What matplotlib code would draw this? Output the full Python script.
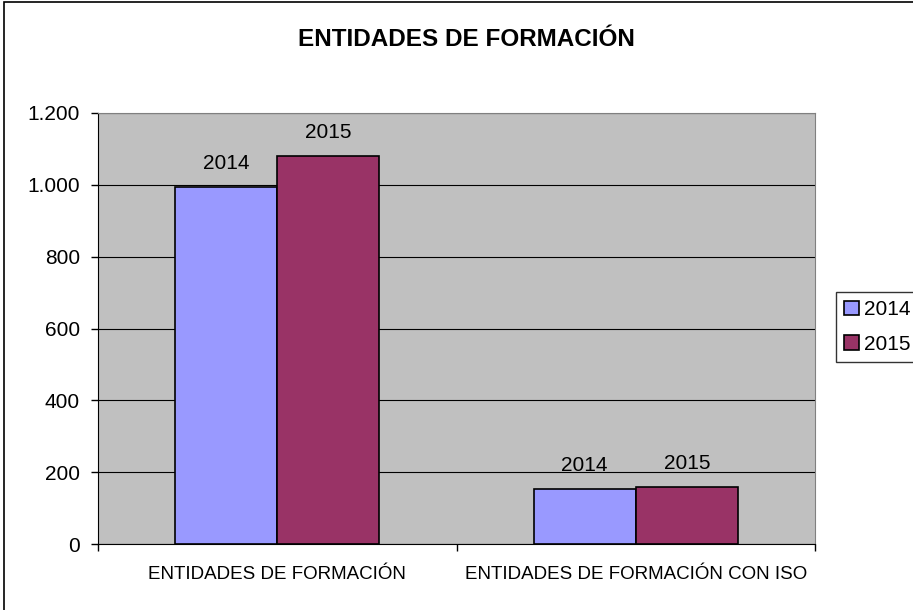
import numpy as np
import matplotlib.pyplot as plt
from matplotlib.patches import Rectangle
from matplotlib.ticker import FuncFormatter

plt.rcParams['font.family'] = ['Liberation Sans', 'DejaVu Sans']

# Data:
categories = ['ENTIDADES DE FORMACIÓN', 'ENTIDADES DE FORMACIÓN CON ISO']
series_names = ['2014', '2015']
values_2014 = [995, 153]
values_2015 = [1081, 158]
colors = ['#9999FF', '#993366']

fig = plt.figure(figsize=(9.13, 6.1), dpi=100)
ax = fig.add_axes([98/913, 1 - 544/610, (815-98)/913, (544-113)/610])
ax.set_facecolor('#C0C0C0')

x = np.arange(len(categories))
w = 0.285
bars1 = ax.bar(x - w/2, values_2014, w, color=colors[0], edgecolor='black', linewidth=1.2, label=series_names[0], zorder=3)
bars2 = ax.bar(x + w/2, values_2015, w, color=colors[1], edgecolor='black', linewidth=1.2, label=series_names[1], zorder=3)

# value labels (series name above each bar)
for bars, name in [(bars1, series_names[0]), (bars2, series_names[1])]:
    for b in bars:
        ax.annotate(name, (b.get_x() + b.get_width()/2, b.get_height()),
                    xytext=(0, 10), textcoords='offset points', ha='center', va='bottom', fontsize=15)

ax.set_xlim(-0.5, 1.5)
ax.set_ylim(0, 1200)
ax.set_yticks(np.arange(0, 1201, 200))
ax.yaxis.set_major_formatter(FuncFormatter(lambda v, p: f'{int(v):,}'.replace(',', '.')))
ax.yaxis.grid(True, color='black', linewidth=0.8, zorder=0)
ax.set_axisbelow(True)

ax.set_xticks([-0.5, 0.5, 1.5])
ax.set_xticklabels([])
ax.set_xticks(x, minor=True)
ax.set_xticklabels(categories, minor=True, fontsize=13.5)
ax.tick_params(axis='x', which='minor', length=0, pad=16)
ax.tick_params(axis='x', which='major', length=5, width=1)
ax.tick_params(axis='y', labelsize=15, length=5, width=1, pad=8)

for s in ['top', 'right']:
    ax.spines[s].set_color('#808080')
for s in ['left', 'bottom']:
    ax.spines[s].set_color('black')

fig.text(466/913, 1 - 39/610, 'ENTIDADES DE FORMACIÓN', ha='center', va='center', fontsize=17.5, fontweight='bold')

leg = fig.legend(loc='center left', bbox_to_anchor=(836/913, 1 - 327/610), frameon=True, fancybox=False,
                 edgecolor='black', fontsize=15, handlelength=0.7, handleheight=0.7, handletextpad=0.25,
                 borderpad=0.4, labelspacing=0.75, borderaxespad=0)
leg.get_frame().set_linewidth(1)

fig.patches.append(Rectangle((4/913, -0.05), 1.0, 1 - 2/610 + 0.05, transform=fig.transFigure,
                             fill=False, edgecolor='black', linewidth=1.2))

fig.savefig('out.png', dpi=100, facecolor='white')
